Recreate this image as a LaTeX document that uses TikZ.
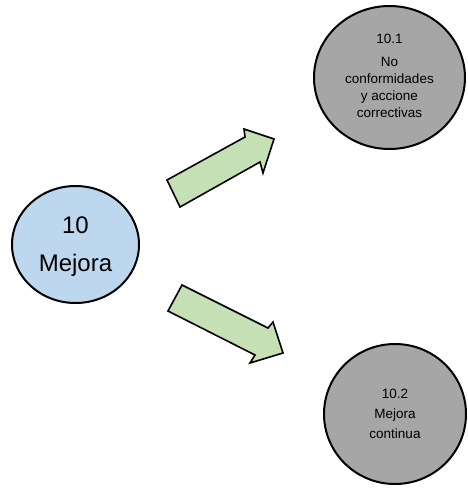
\documentclass[tikz,border=0pt]{standalone}
\usepackage{fontspec}
\setmainfont{Liberation Sans}
\usetikzlibrary{shapes.geometric}

\definecolor{clauseblue}{HTML}{BDD7EE}
\definecolor{subgray}{HTML}{A6A6A6}
\definecolor{arrowgreen}{HTML}{C5E0B4}

\tikzset{
  clause/.style={ellipse, draw=black, line width=2pt, align=center, inner sep=0pt},
  blockarrow/.style={draw=black, fill=arrowgreen, line width=1.6pt, line join=miter}
}

\begin{document}
\begin{tikzpicture}[x=1pt, y=-1pt]
  \useasboundingbox (0,0) rectangle (468,488);

  % main clause
  \node[clause, fill=clauseblue, minimum width=127pt, minimum height=117pt,
        font=\fontsize{24}{38}\selectfont] (mejora) at (75.5,244.5)
        {\raisebox{-2pt}{\begin{tabular}{@{}c@{}}10\\Mejora\end{tabular}}};

  % sub-clauses
  \node[clause, fill=subgray, minimum width=151pt, minimum height=143pt,
        font=\fontsize{13.5}{17}\selectfont] (nc) at (389.5,77.5)
        {\raisebox{-3pt}{\begin{tabular}{@{}c@{}}10.1\\[6pt]No\\conformidades\\y accione\\correctivas\end{tabular}}};
  \node[clause, fill=subgray, minimum width=142pt, minimum height=140pt,
        font=\fontsize{13.5}{20}\selectfont] (mc) at (395,414)
        {\raisebox{-4pt}{\begin{tabular}{@{}c@{}}10.2\\Mejora\\continua\end{tabular}}};

  % block arrows from the main clause towards the sub-clauses
  \draw[blockarrow] (167,180) -- (245,137) -- (244,129) -- (274,139)
        -- (263,173) -- (260,162) -- (180,207) -- cycle;
  \draw[blockarrow] (182,285) -- (268,328) -- (273,322) -- (283,353)
        -- (250,363) -- (255,355) -- (168,311) -- cycle;
\end{tikzpicture}
\end{document}
